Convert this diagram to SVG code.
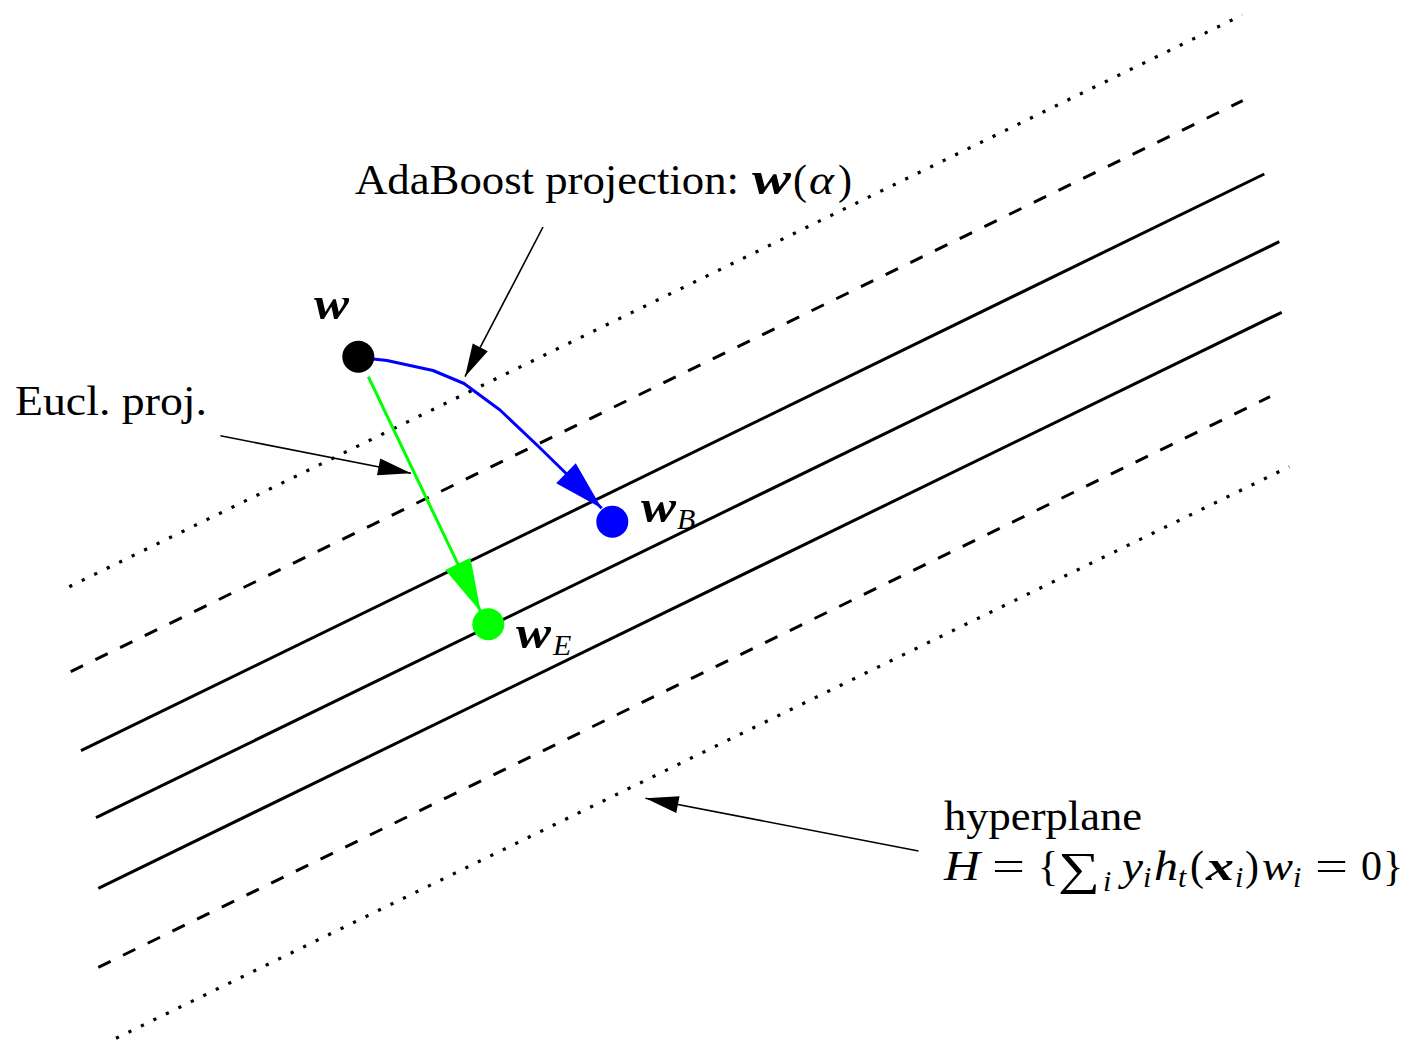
<svg xmlns="http://www.w3.org/2000/svg" width="1423" height="1041" viewBox="0 0 1423 1041">
<style>
.ln{stroke:#000;stroke-width:3;fill:none;stroke-linecap:butt}
.dash{stroke-dasharray:13.7 13.77}
.dot{stroke-width:3.2;stroke-dasharray:3.2 10.68}
.ptr{stroke:#000;stroke-width:1.6;fill:none;marker-end:url(#ahK)}
.t{font-family:"Liberation Serif","Times New Roman",serif;font-size:42px;fill:#000}
.it{font-style:italic}
.bi{font-style:italic;font-weight:bold;font-size:46px}
.sub{font-size:30px}
</style>
<defs>
<marker id="ahK" markerUnits="userSpaceOnUse" markerWidth="34" markerHeight="18" refX="33" refY="8.5" orient="auto" overflow="visible"><path d="M0,0 L33,8.5 L0,17 z" fill="#000"/></marker>
<marker id="ahB" markerUnits="userSpaceOnUse" markerWidth="51" markerHeight="29" refX="50" refY="14" orient="auto" overflow="visible"><path d="M0,0 L50,14 L0,28 z" fill="#0000ff"/></marker>
<marker id="ahG" markerUnits="userSpaceOnUse" markerWidth="54" markerHeight="29" refX="53" refY="14" orient="auto" overflow="visible"><path d="M0,0 L53,14 L0,28 z" fill="#00ff00"/></marker>
</defs>
<rect width="1423" height="1041" fill="#fff"/>
<g id="hyperplanes">
<line class="ln dot" x1="69.3" y1="586.7" x2="1242.3" y2="15"/>
<line class="ln dash" x1="70.7" y1="671.7" x2="1242.7" y2="100.7"/>
<line class="ln" x1="81" y1="750.7" x2="1264.3" y2="174"/>
<line class="ln" x1="96" y1="817.7" x2="1279.3" y2="241.7"/>
<line class="ln" x1="98.3" y1="888.3" x2="1281.7" y2="312.3"/>
<line class="ln dash" x1="98.3" y1="967.3" x2="1270" y2="396.7"/>
<line class="ln dot" x1="116" y1="1038.3" x2="1289.3" y2="466.7"/>
</g>
<g id="connectors">
<polyline points="362,357.7 387,360.5 433,370.5 464,383.5 500,410 538,446 601.7,508.3" fill="none" stroke="#0000ff" stroke-width="3" stroke-linejoin="round" marker-end="url(#ahB)"/>
<line x1="368.3" y1="376.7" x2="480.7" y2="611.7" stroke="#00ff00" stroke-width="3" marker-end="url(#ahG)"/>
<line class="ptr" x1="543" y1="227" x2="465" y2="376.7"/>
<line class="ptr" x1="220.4" y1="435.7" x2="411" y2="473.3"/>
<line class="ptr" x1="918.5" y1="851" x2="645.5" y2="798.3"/>
</g>
<g id="node-w">
<circle cx="358.3" cy="356.7" r="16" fill="#000"/>
<text class="t bi" x="314" y="319" textLength="35" lengthAdjust="spacingAndGlyphs">w</text>
</g>
<g id="node-wB">
<circle cx="612.3" cy="521.7" r="16" fill="#0000ff"/>
<text class="t bi" x="641" y="522" textLength="35" lengthAdjust="spacingAndGlyphs">w</text>
<text class="t it sub" x="677" y="529">B</text>
</g>
<g id="node-wE">
<circle cx="488.3" cy="624.3" r="16" fill="#00ff00"/>
<text class="t bi" x="516" y="648" textLength="35" lengthAdjust="spacingAndGlyphs">w</text>
<text class="t it sub" x="553" y="655">E</text>
</g>
<g id="label-adaboost">
<text class="t" x="355" y="194" textLength="384" lengthAdjust="spacingAndGlyphs">AdaBoost projection:</text>
<text class="t bi" x="752" y="194" textLength="39" lengthAdjust="spacingAndGlyphs">w</text>
<text class="t" x="793" y="194">(</text>
<text class="t it" x="809" y="194" textLength="25" lengthAdjust="spacingAndGlyphs">α</text>
<text class="t" x="838" y="194">)</text>
</g>
<g id="label-eucl">
<text class="t" x="15" y="415" textLength="192" lengthAdjust="spacingAndGlyphs">Eucl. proj.</text>
</g>
<g id="label-hyperplane">
<text class="t" x="944" y="830" textLength="198" lengthAdjust="spacingAndGlyphs">hyperplane</text>
<text class="t it" x="944" y="880" textLength="36" lengthAdjust="spacingAndGlyphs">H</text>
<text class="t" x="992" y="880" textLength="33" lengthAdjust="spacingAndGlyphs">=</text>
<text class="t" x="1038" y="880">{</text>
<text class="t" x="1058" y="884" style="font-size:46px" textLength="42" lengthAdjust="spacingAndGlyphs">∑</text>
<text class="t it sub" x="1103" y="891">i</text>
<text class="t it" x="1122" y="880" textLength="21" lengthAdjust="spacingAndGlyphs">y</text>
<text class="t it sub" x="1143" y="887">i</text>
<text class="t it" x="1154" y="880" textLength="24" lengthAdjust="spacingAndGlyphs">h</text>
<text class="t it sub" x="1178" y="887">t</text>
<text class="t" x="1190" y="880">(</text>
<text class="t bi" x="1206" y="880" style="font-size:42px" textLength="28" lengthAdjust="spacingAndGlyphs">x</text>
<text class="t it sub" x="1235" y="887">i</text>
<text class="t" x="1245" y="880">)</text>
<text class="t it" x="1262" y="880" textLength="31" lengthAdjust="spacingAndGlyphs">w</text>
<text class="t it sub" x="1293" y="887">i</text>
<text class="t" x="1315" y="880" textLength="33" lengthAdjust="spacingAndGlyphs">=</text>
<text class="t" x="1361" y="880">0</text>
<text class="t" x="1383" y="880">}</text>
</g>
</svg>
